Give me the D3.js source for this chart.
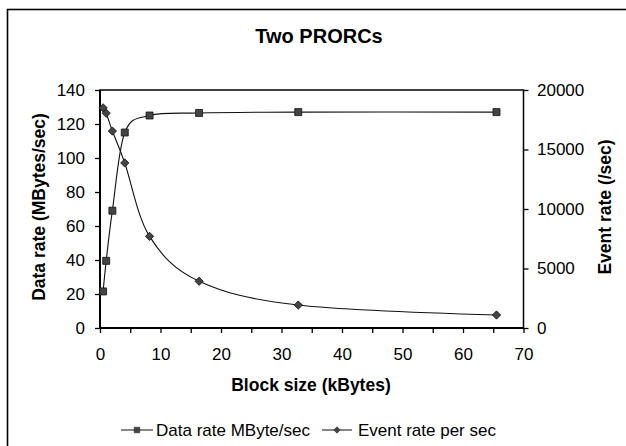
<!DOCTYPE html>
<html>
<head>
<meta charset="utf-8">
<script src="https://cdn.jsdelivr.net/npm/d3@7"></script>
<style>
  body { margin: 0; background: #fff; }
  text { font-family: "Liberation Sans", Arial, sans-serif; fill: #000; }
</style>
</head>
<body>
<div id="chart"></div>
<script>
// chart data
var blockSizes = [0.512, 1.024, 2.048, 4.096, 8.192, 16.384, 32.768, 65.536];
var dataRate = [21.5, 39.5, 69, 115, 125, 126.5, 127, 127];
var eventRate = [18500, 18050, 16550, 13870, 7700, 3930, 1930, 1090];

var xTicks = [0, 10, 20, 30, 40, 50, 60, 70];
var xMinorTicks = [5, 15, 25, 35, 45, 55, 65];
var leftTicks = [0, 20, 40, 60, 80, 100, 120, 140];
var rightTicks = [0, 5000, 10000, 15000, 20000];

var seriesNames = ["Data rate MByte/sec", "Event rate per sec"];

var width = 626;
var height = 446;

var svg = d3.select("#chart")
    .append("svg")
    .attr("width", width)
    .attr("height", height);

// chart area border (runs off the right and bottom edges)
svg.append("rect")
    .attr("x", 7.5)
    .attr("y", 9.5)
    .attr("width", 640)
    .attr("height", 460)
    .attr("fill", "none")
    .attr("stroke", "#000")
    .attr("stroke-width", 1.6);

// plot area
var plotLeft = 100, plotRight = 523.5, plotTop = 90, plotBottom = 328;

var x = d3.scaleLinear().domain([0, 70]).range([plotLeft, plotRight]);
var yL = d3.scaleLinear().domain([0, 140]).range([plotBottom, plotTop]);
var yR = d3.scaleLinear().domain([0, 20000]).range([plotBottom, plotTop]);

// title
svg.append("text")
    .attr("x", 319)
    .attr("y", 43)
    .attr("text-anchor", "middle")
    .style("font-size", "20px")
    .style("font-weight", "bold")
    .text("Two PRORCs");

// axes
svg.append("g")
    .attr("transform", "translate(0," + plotBottom + ")")
    .call(d3.axisBottom(x).tickValues(xTicks).tickSize(5).tickPadding(15).tickFormat(d3.format("d")));

svg.append("g")
    .attr("transform", "translate(0," + plotBottom + ")")
    .call(d3.axisBottom(x).tickValues(xMinorTicks).tickSize(5).tickFormat(""));

svg.append("g")
    .attr("transform", "translate(" + plotLeft + ",0)")
    .call(d3.axisLeft(yL).tickValues(leftTicks).tickSize(5).tickPadding(10).tickFormat(d3.format("d")));

svg.append("g")
    .attr("transform", "translate(" + plotRight + ",0)")
    .call(d3.axisRight(yR).tickValues(rightTicks).tickSize(5).tickPadding(8.5).tickFormat(d3.format("d")));

svg.selectAll(".domain").remove();
svg.selectAll(".tick line").attr("stroke", "#000").attr("stroke-width", 1.3);
svg.selectAll(".tick text")
    .style("font-size", "17px")
    .style("font-family", "'Liberation Sans', Arial, sans-serif")
    .attr("fill", "#000");

// plot area frame
svg.append("rect")
    .attr("x", plotLeft)
    .attr("y", plotTop)
    .attr("width", plotRight - plotLeft)
    .attr("height", plotBottom - plotTop)
    .attr("fill", "none")
    .attr("stroke", "#000")
    .attr("stroke-width", 1.5);

// left axis and x axis are drawn a bit heavier
svg.append("path")
    .attr("d", "M" + plotLeft + "," + plotTop + "V" + plotBottom + "H" + plotRight)
    .attr("fill", "none")
    .attr("stroke", "#000")
    .attr("stroke-width", 2);

// axis titles
svg.append("text")
    .attr("x", 311)
    .attr("y", 391)
    .attr("text-anchor", "middle")
    .style("font-size", "17.5px")
    .style("font-weight", "bold")
    .text("Block size (kBytes)");

svg.append("text")
    .attr("transform", "translate(45,207) rotate(-90)")
    .attr("text-anchor", "middle")
    .style("font-size", "17.5px")
    .style("font-weight", "bold")
    .text("Data rate (MBytes/sec)");

svg.append("text")
    .attr("transform", "translate(611,207) rotate(-90)")
    .attr("text-anchor", "middle")
    .style("font-size", "17.5px")
    .style("font-weight", "bold")
    .text("Event rate (/sec)");

// smoothed lines, like the spreadsheet "smoothed line" option
var lineL = d3.line()
    .x(function (d, i) { return x(blockSizes[i]) })
    .y(function (d) { return yL(d) })
    .curve(d3.curveCardinal.tension(0));

var lineR = d3.line()
    .x(function (d, i) { return x(blockSizes[i]) })
    .y(function (d) { return yR(d) })
    .curve(d3.curveCardinal.tension(0));

svg.append("path")
    .attr("d", lineR(eventRate))
    .attr("fill", "none")
    .attr("stroke", "#111")
    .attr("stroke-width", 1.1);

svg.append("path")
    .attr("d", lineL(dataRate))
    .attr("fill", "none")
    .attr("stroke", "#111")
    .attr("stroke-width", 1.1);

var square = d3.symbol().type(d3.symbolSquare).size(49);
var diamond = d3.symbol().type(d3.symbolDiamond2).size(44);

svg.selectAll("myDiamonds")
    .data(eventRate)
    .enter()
    .append("path")
    .attr("d", diamond)
    .attr("transform", function (d, i) { return "translate(" + x(blockSizes[i]) + "," + yR(d) + ")" })
    .attr("fill", "#444")
    .attr("stroke", "#111")
    .attr("stroke-width", 0.8);

svg.selectAll("mySquares")
    .data(dataRate)
    .enter()
    .append("path")
    .attr("d", square)
    .attr("transform", function (d, i) { return "translate(" + x(blockSizes[i]) + "," + yL(d) + ")" })
    .attr("fill", "#444")
    .attr("stroke", "#111")
    .attr("stroke-width", 0.8);

// legend
var legendItems = [
    { name: seriesNames[0], x0: 121, x1: 153, tx: 156, shape: d3.symbol().type(d3.symbolSquare).size(30) },
    { name: seriesNames[1], x0: 322, x1: 352, tx: 358, shape: d3.symbol().type(d3.symbolDiamond2).size(26) }
];
var ly = 430;

var lg = svg.selectAll("myLegend")
    .data(legendItems)
    .enter()
    .append("g");

lg.append("line")
    .attr("x1", function (d) { return d.x0 })
    .attr("x2", function (d) { return d.x1 })
    .attr("y1", ly)
    .attr("y2", ly)
    .attr("stroke", "#444")
    .attr("stroke-width", 1.3);

lg.append("path")
    .attr("d", function (d) { return d.shape() })
    .attr("transform", function (d) { return "translate(" + (d.x0 + d.x1) / 2 + "," + ly + ")" })
    .attr("fill", "#444")
    .attr("stroke", "#222")
    .attr("stroke-width", 0.6);

lg.append("text")
    .attr("x", function (d) { return d.tx })
    .attr("y", ly + 6)
    .style("font-size", "17px")
    .text(function (d) { return d.name });
</script>
</body>
</html>
